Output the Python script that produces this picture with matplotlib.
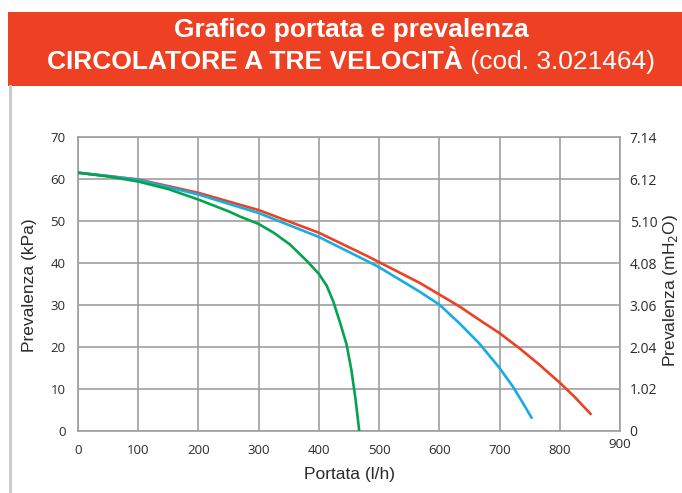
import matplotlib
matplotlib.use("Agg")
import matplotlib.pyplot as plt
from matplotlib.patches import Rectangle
from matplotlib.lines import Line2D

# Pump curves: flow (l/h) vs head (kPa) for the three speeds
flow_high = [0, 50, 100, 200, 300, 400, 481, 500, 567, 600, 633, 666, 700,
             733, 766, 800, 824, 851]
head_high = [61.5, 60.7, 59.9, 56.7, 52.6, 47.2, 41.6, 40.2, 35.3, 32.5, 29.7,
             26.5, 23.3, 19.7, 15.8, 11.5, 8.2, 4.1]

flow_mid = [0, 50, 100, 200, 300, 400, 481, 500, 567, 600, 633, 666, 700,
            722, 739, 753]
head_mid = [61.5, 60.7, 59.8, 56.3, 51.9, 46.2, 40.4, 39.0, 33.2, 30.1, 25.7,
            20.9, 15.0, 10.6, 6.6, 3.2]

flow_low = [0, 50, 100, 150, 200, 250, 270, 300, 325, 352, 380, 400, 413, 424,
            436, 446, 454, 461, 467]
head_low = [61.5, 60.6, 59.4, 57.6, 55.1, 52.3, 51.0, 49.3, 47.2, 44.4, 40.5,
            37.4, 34.6, 30.8, 25.4, 20.6, 14.5, 7.4, 0.0]

x_ticks = [0, 100, 200, 300, 400, 500, 600, 700, 800, 900]
kpa_ticks = [0, 10, 20, 30, 40, 50, 60, 70]
mh2o_ticks = [0, 1.02, 2.04, 3.06, 4.08, 5.10, 6.12, 7.14]
mh2o_labels = ["0", "1.02", "2.04", "3.06", "4.08", "5.10", "6.12", "7.14"]

title_line1 = "Grafico portata e prevalenza"
title_bold = "CIRCOLATORE A TRE VELOCITÀ"
title_code = " (cod. 3.021464)"

RED = "#EE4023"
BLUE = "#16ACE4"
GREEN = "#06A34E"
GRID = "#9E9E9E"
TEXT = "#2B2B2B"

W, H = 682, 493
fig = plt.figure(figsize=(W / 100, H / 100), dpi=100)
fig.patch.set_facecolor("white")

# header band and left border
fig.patches.append(Rectangle((8 / W, 1 - 86 / H), 1 - 8 / W, 74 / H,
                             transform=fig.transFigure, facecolor=RED,
                             edgecolor="none", zorder=0))
fig.lines.append(Line2D([9.5 / W, 9.5 / W], [0, 1 - 86 / H],
                        transform=fig.transFigure, color="#C8C8C8", lw=2))

head_font = ["Liberation Sans", "DejaVu Sans"]
cx = 351
fig.text(cx / W, 1 - 30 / H, title_line1, ha="center", va="center",
         color="white", fontsize=19, fontweight="bold", family=head_font)
t_bold = fig.text(0, 1 - 62 / H, title_bold, ha="left", va="center",
                  color="white", fontsize=19, fontweight="bold", family=head_font)
t_code = fig.text(0, 1 - 62 / H, title_code, ha="left", va="center",
                  color="white", fontsize=19, family=head_font)
fig.canvas.draw()
r = fig.canvas.get_renderer()
wb = t_bold.get_window_extent(r).width
wc = t_code.get_window_extent(r).width
x0 = cx - (wb + wc) / 2
t_bold.set_x(x0 / W)
t_code.set_x((x0 + wb) / W)

# plot area
ax = fig.add_axes([78 / W, 1 - 431 / H, (620 - 78) / W, (431 - 137) / H])
ax.set_xlim(0, 900)
ax.set_ylim(0, 70)

ax.plot(flow_high, head_high, color=RED, lw=1.9, solid_joinstyle="round", zorder=3)
ax.plot(flow_mid, head_mid, color=BLUE, lw=1.9, solid_joinstyle="round", zorder=3)
ax.plot(flow_low, head_low, color=GREEN, lw=1.9, solid_joinstyle="round", zorder=4)

ax.set_xticks(x_ticks)
ax.set_yticks(kpa_ticks)
ax.grid(True, color=GRID, lw=1.2)
ax.set_axisbelow(True)
for s in ax.spines.values():
    s.set_color(GRID)
    s.set_linewidth(1.2)

tick_font = ["Open Sans", "DejaVu Sans"]
ax.tick_params(length=0, colors=TEXT, labelsize=9.5)
ax.tick_params(axis="x", pad=9)
ax.tick_params(axis="y", pad=9)
ax.set_xticklabels([str(v) for v in x_ticks[:-1]] + [""])
for lab in ax.get_xticklabels() + ax.get_yticklabels():
    lab.set_family(tick_font)
ax.text(900, -1.6, str(x_ticks[-1]), ha="center", va="top", fontsize=9.5,
        color=TEXT, family=tick_font)

ax2 = ax.twinx()
ax2.set_ylim(0, 7.14)
ax2.set_yticks(mh2o_ticks)
ax2.set_yticklabels(mh2o_labels)
ax2.tick_params(length=0, colors=TEXT, labelsize=10, pad=7)
for lab in ax2.get_yticklabels():
    lab.set_family(tick_font)
for s in ax2.spines.values():
    s.set_visible(False)

label_font = ["Liberation Sans", "DejaVu Sans"]
fig.text(30 / W, 1 - 285 / H, "Prevalenza (kPa)", rotation=90, ha="center",
         va="center", fontsize=12.5, color=TEXT, family=label_font)
fig.text(671 / W, 1 - 290 / H, "Prevalenza (mH$_2$O)", rotation=90, ha="center",
         va="center", fontsize=12.5, color=TEXT, family=label_font)
fig.text(350 / W, 1 - 474 / H, "Portata (l/h)", ha="center", va="center",
         fontsize=12.5, color=TEXT, family=label_font)

fig.savefig("out.png", dpi=100)
